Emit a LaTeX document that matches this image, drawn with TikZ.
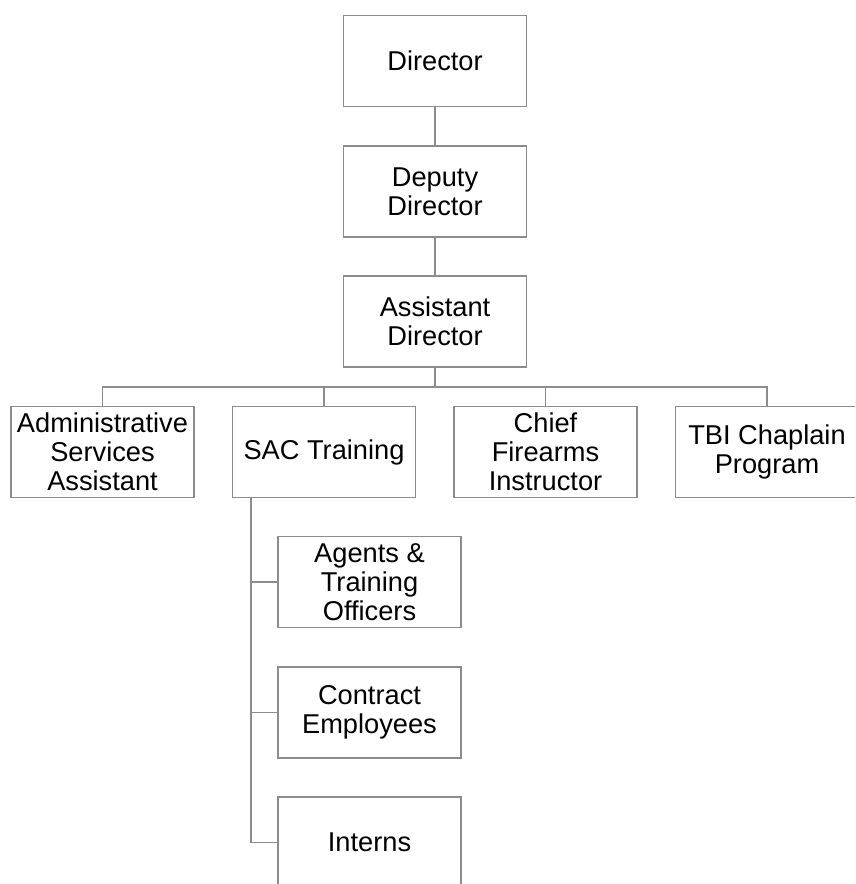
\documentclass[tikz,border=0pt]{standalone}
\usepackage{fontspec}
\setmainfont{Liberation Sans}
\newcommand{\orgtext}{\fontsize{15.5}{16.5}\selectfont}

\begin{document}
\begin{tikzpicture}[x=0.02cm, y=-0.02cm,
  unit/.style={draw=black!45, line width=0.8pt, fill=white, align=center,
               minimum width=3.66cm, minimum height=1.82cm, inner sep=0pt,
               font=\orgtext},
  link/.style={draw=black!45, line width=0.8pt}]
 \useasboundingbox (0,0) rectangle (855,884);
 \clip (0,0) rectangle (855,884);

 \coordinate (bus)   at (435, 387);
 \coordinate (spine) at (251, 0);

 \node[unit] (director)  at (435,  61)   {Director};
 \node[unit] (deputy)    at (435, 191.5) {Deputy\\Director};
 \node[unit] (assistant) at (435, 321.5) {Assistant\\Director};

 \node[unit] (admin) at (102.5, 452) {Administrative\\Services\\Assistant};
 \node[unit] (sac)   at (324,   452) {SAC Training};
 \node[unit] (chief) at (545.5, 452) {Chief\\Firearms\\Instructor};
 \node[unit] (tbi)   at (767,   452) {TBI Chaplain\\Program};

 \node[unit] (agents)   at (369.5, 582)   {Agents \&\\Training\\Officers};
 \node[unit] (contract) at (369.5, 712.5) {Contract\\Employees};
 \node[unit] (interns)  at (369.5, 842.5) {Interns};

 \path[link] (director) -- (deputy);
 \path[link] (deputy) -- (assistant);
 \path[link] (assistant) -- (assistant.south |- bus);
 \path[link] (admin.north) -- (admin.north |- bus) -| (tbi.north);
 \foreach \n in {sac, chief}
   \path[link] (\n.north) -- (\n.north |- bus);

 \path[link] (sac.south -| spine) |- (interns.west);
 \foreach \n in {agents, contract}
   \path[link] (\n.west -| spine) -- (\n.west);
\end{tikzpicture}
\end{document}
